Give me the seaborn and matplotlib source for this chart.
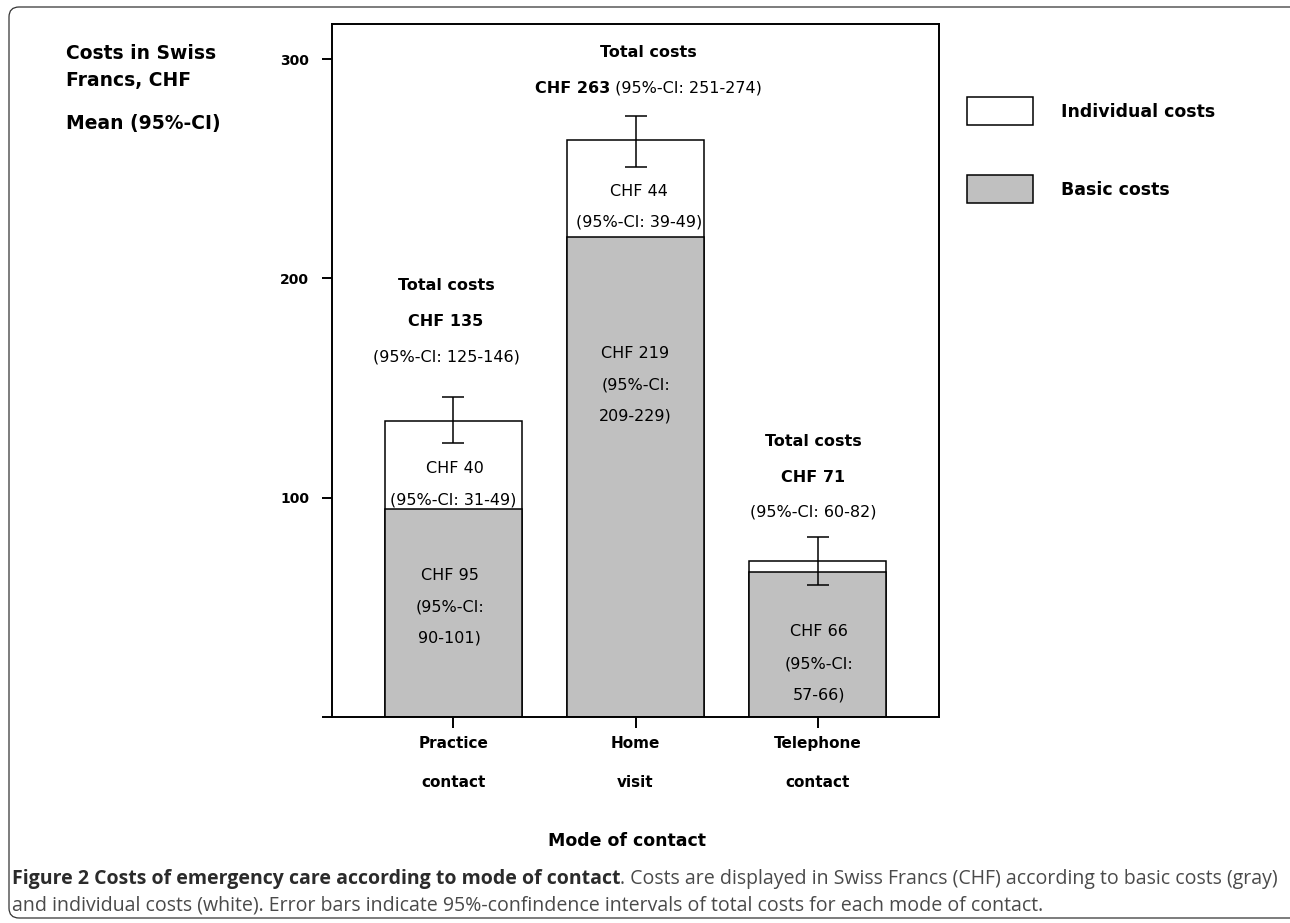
import matplotlib
matplotlib.use("Agg")
import matplotlib.pyplot as plt
from matplotlib.patches import Patch, FancyBboxPatch
from matplotlib.transforms import IdentityTransform
import pandas as pd
import seaborn as sns

# data (CHF, mean and 95%-CI)
modes = ["Practice\ncontact", "Home\nvisit", "Telephone\ncontact"]
basic_costs = [95, 219, 66]
basic_ci = ["90-101", "209-229", "57-66"]
individual_costs = [40, 44, 5]
individual_ci = ["31-49", "39-49", None]
total_costs = [135, 263, 71]
total_ci_low = [125, 251, 60]
total_ci_high = [146, 274, 82]
y_ticks = [0, 100, 200, 300]
y_tick_labels = ["", "100", "200", "300"]

sns.set_style("ticks")
plt.rcParams["font.family"] = ["DejaVu Sans"]
plt.rcParams.update({"text.color": "black", "axes.labelcolor": "black",
                     "xtick.color": "black", "ytick.color": "black",
                     "axes.edgecolor": "black"})

W, H = 1290, 923
fig = plt.figure(figsize=(W / 100, H / 100), dpi=100)
ax = fig.add_axes([332 / W, 1 - 717 / H, (939 - 332) / W, (717 - 24) / H])

df = pd.DataFrame({"mode": modes, "basic": basic_costs, "total": total_costs})

# stacked bars: white total behind, gray basic part in front
sns.barplot(data=df, x="mode", y="total", color="white", saturation=1,
            edgecolor="black", linewidth=1.1, width=0.75, errorbar=None, ax=ax)
sns.barplot(data=df, x="mode", y="basic", color="#c0c0c0", saturation=1,
            edgecolor="black", linewidth=1.1, width=0.75, errorbar=None, ax=ax)

err_lo = [t - l for t, l in zip(total_costs, total_ci_low)]
err_hi = [h - t for t, h in zip(total_costs, total_ci_high)]
ax.errorbar(range(len(modes)), total_costs, yerr=[err_lo, err_hi], fmt="none",
            ecolor="black", elinewidth=1.1, capsize=8, capthick=1.1, zorder=5)

ax.set_xlim(-0.667, 2.667)
ax.set_ylim(0, 316)
ax.set_yticks(y_ticks)
ax.set_yticklabels(y_tick_labels, fontsize=10, fontweight="bold")
ax.set_xticks(range(len(modes)))
ax.set_xticklabels(modes, fontsize=11, fontweight="bold", linespacing=3.0)
ax.tick_params(axis="y", direction="out", length=7.5, width=1.4, pad=9)
ax.tick_params(axis="x", direction="out", length=8, width=1.4, pad=6)
for s in ax.spines.values():
    s.set_visible(True)
    s.set_linewidth(1.4)
    s.set_color("black")

ax.set_xlabel("Mode of contact", fontsize=12.5, fontweight="bold")
ax.xaxis.label.set_va("baseline")
ax.xaxis.set_label_coords(0.486, -0.186)
ax.set_ylabel("")

fig.canvas.draw()
renderer = fig.canvas.get_renderer()


def mixed_text(x, y, bold_part, reg_part, size=11.5):
    # bold + regular on one line, centred on x
    t1 = ax.text(x, y, bold_part, fontsize=size, fontweight="bold", va="center")
    t2 = ax.text(x, y, reg_part, fontsize=size, va="center")
    w1 = t1.get_window_extent(renderer).width
    w2 = t2.get_window_extent(renderer).width
    x0, y0 = ax.transData.transform((x, y))
    t1.set_position(ax.transData.inverted().transform((x0 - (w1 + w2) / 2, y0)))
    t2.set_position(ax.transData.inverted().transform((x0 - (w1 + w2) / 2 + w1, y0)))


bkw = dict(ha="center", va="center", fontsize=11.5, fontweight="bold")
rkw = dict(ha="center", va="center", fontsize=11.5)

# totals
ax.text(-0.041, 196.8, "Total costs", **bkw)
ax.text(-0.041, 180.4, f"CHF {total_costs[0]}", **bkw)
ax.text(-0.041, 164.0, f"(95%-CI: {total_ci_low[0]}-{total_ci_high[0]})", **rkw)
ax.text(1.07, 303.0, "Total costs", **bkw)
mixed_text(1.07, 286.6, f"CHF {total_costs[1]}",
           f" (95%-CI: {total_ci_low[1]}-{total_ci_high[1]})")
ax.text(1.975, 125.7, "Total costs", **bkw)
ax.text(1.975, 109.3, f"CHF {total_costs[2]}", **bkw)
ax.text(1.975, 93.4, f"(95%-CI: {total_ci_low[2]}-{total_ci_high[2]})", **rkw)

# individual parts
ax.text(0.01, 113.4, f"CHF {individual_costs[0]}", **rkw)
ax.text(0.0, 98.9, f"(95%-CI: {individual_ci[0]})", **rkw)
ax.text(1.02, 239.6, f"CHF {individual_costs[1]}", **rkw)
ax.text(1.02, 225.5, f"(95%-CI: {individual_ci[1]})", **rkw)

# basic parts
for x, ys, i in [(-0.02, (64.7, 50.1, 36.0), 0), (1.0, (165.8, 151.3, 137.1), 1),
                 (2.01, (39.2, 24.1, 10.0), 2)]:
    ax.text(x, ys[0], f"CHF {basic_costs[i]}", **rkw)
    ax.text(x, ys[1], "(95%-CI:", **rkw)
    ax.text(x, ys[2], f"{basic_ci[i]})", **rkw)

# y axis title, top left
fig.text(66 / W, 1 - 59 / H, "Costs in Swiss", fontsize=13.5, fontweight="bold", va="baseline")
fig.text(66 / W, 1 - 86 / H, "Francs, CHF", fontsize=13.5, fontweight="bold", va="baseline")
fig.text(66 / W, 1 - 129 / H, "Mean (95%-CI)", fontsize=13.5, fontweight="bold", va="baseline")

# legend
handles = [Patch(facecolor="white", edgecolor="black", linewidth=1.1, label="Individual costs"),
           Patch(facecolor="#c0c0c0", edgecolor="black", linewidth=1.1, label="Basic costs")]
fig.legend(handles=handles, loc="upper left", bbox_to_anchor=(967 / W, 1 - 97 / H),
           bbox_transform=fig.transFigure, frameon=False, borderpad=0, borderaxespad=0,
           prop={"size": 12.5, "weight": "bold"}, handlelength=3.8, handleheight=2.13,
           handletextpad=1.6, labelspacing=2.87)

# caption
cap_bold = "Figure 2 Costs of emergency care according to mode of contact"
cap_rest = ". Costs are displayed in Swiss Francs (CHF) according to basic costs (gray)"
cap_line2 = ("and individual costs (white). Error bars indicate 95%-confindence intervals "
             "of total costs for each mode of contact.")
cap_font = ["Open Sans", "DejaVu Sans"]
tb = fig.text(12 / W, 1 - 884 / H, cap_bold, fontsize=12, fontweight="bold",
              family=cap_font, color="#2b2b2b", va="baseline")
tr = fig.text(12 / W, 1 - 884 / H, cap_rest, fontsize=12, family=cap_font,
              color="#4a4a4a", va="baseline")
wtot = tb.get_window_extent(renderer).width + tr.get_window_extent(renderer).width
size = 12 * 1264 / wtot
tb.set_fontsize(size)
tr.set_fontsize(size)
wb = tb.get_window_extent(renderer).width
tr.set_x((12 + wb) / W)
fig.text(12 / W, 1 - 911 / H, cap_line2, fontsize=size, family=cap_font,
         color="#4a4a4a", va="baseline")

# rounded frame around figure (right/bottom run off the page)
frame = FancyBboxPatch((9, H - 918), 1300, 911, boxstyle="round,pad=0,rounding_size=10",
                       transform=IdentityTransform(), facecolor="none",
                       edgecolor="#333333", linewidth=0.9, clip_on=False)
fig.add_artist(frame)

fig.savefig("out.png", dpi=100)
